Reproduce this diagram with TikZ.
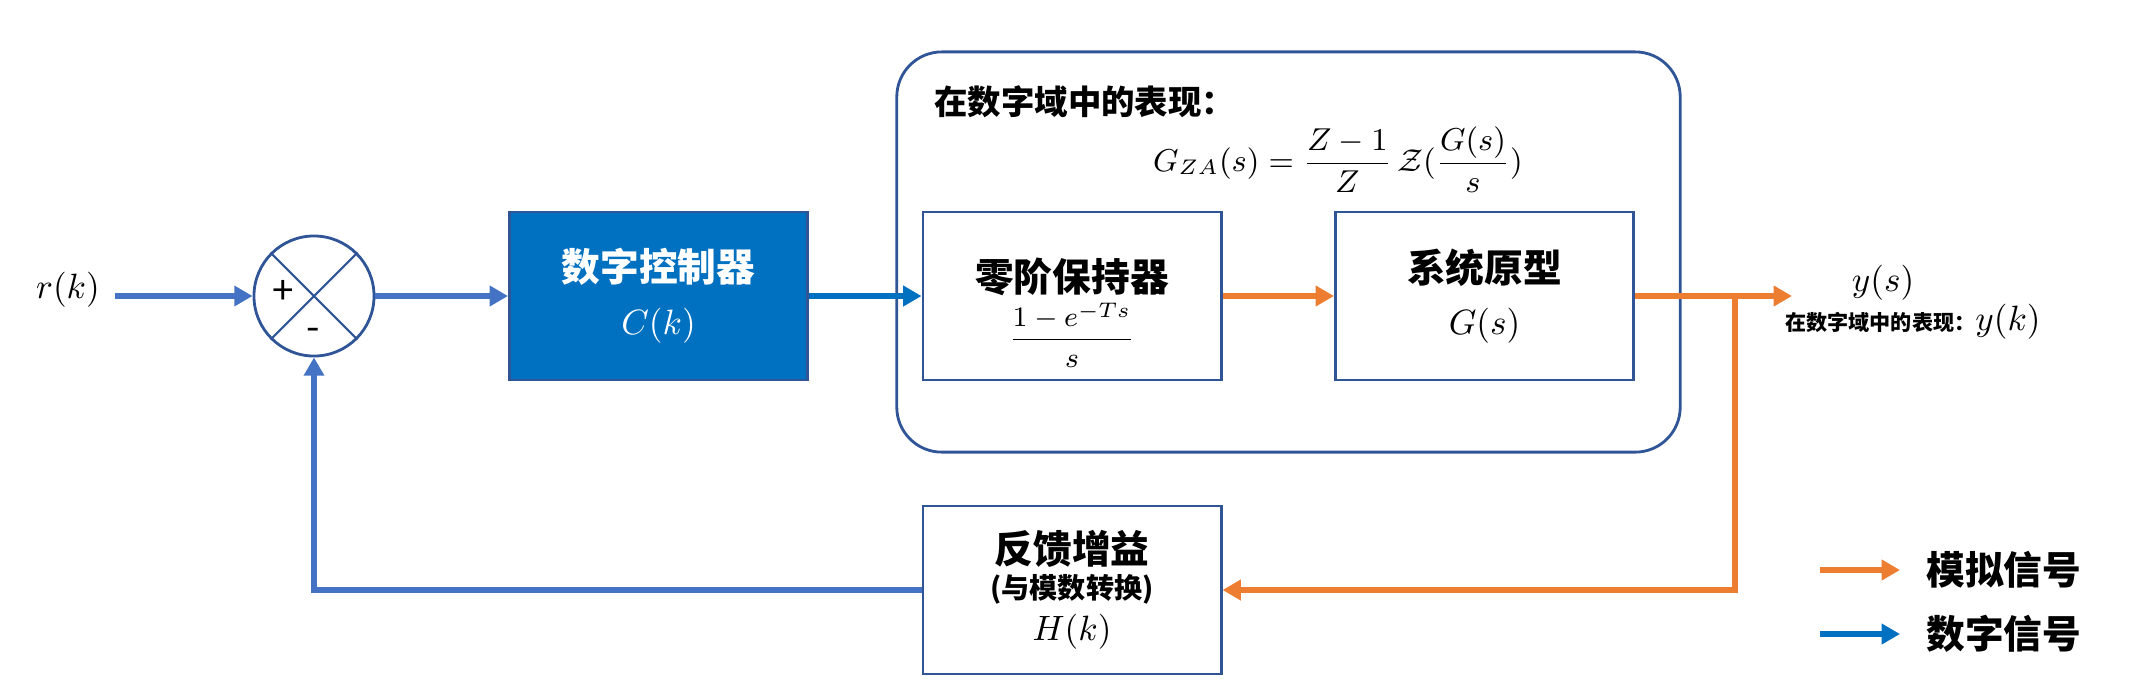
\documentclass[tikz,border=0pt]{standalone}
\usepackage{amsmath}
\usepackage{fontspec}
\setmainfont{Noto Sans CJK SC}
\usepackage{xcolor}
\usetikzlibrary{arrows.meta,positioning,calc}
\definecolor{sigblue}{HTML}{4472C4}
\definecolor{digblue}{HTML}{0070C0}
\definecolor{anaorange}{HTML}{ED7D31}
\definecolor{boxline}{HTML}{2F5597}

\begin{document}
\begin{tikzpicture}[x=0.01cm,y=-0.01cm,every node/.style={align=center},
  font=\fontsize{10}{12}\selectfont,
  blk/.style={draw=boxline,line width=0.8pt,minimum width=2.98cm,minimum height=1.68cm,inner sep=0pt},
  ttl/.style={font=\fontsize{11}{13}\selectfont\bfseries},
  sig/.style={draw=sigblue,line width=1.7pt,-{Triangle[length=5.2pt,width=5.6pt]}},
  dig/.style={draw=digblue,line width=1.7pt,-{Triangle[length=5.2pt,width=5.6pt]}},
  ana/.style={draw=anaorange,line width=1.7pt,-{Triangle[length=5.2pt,width=5.6pt]}}]
  \useasboundingbox (0,0) rectangle (2130,696);
  % domain frame
  \node[draw=boxline,line width=0.8pt,rounded corners=0.45cm,minimum width=7.83cm,minimum height=4cm] (dom) at (1288.5,252) {};
  \node[anchor=west,font=\fontsize{9.5}{11}\selectfont\bfseries] (domtitle) at (922,102) {在数字域中的表现：};
  \node[font=\fontsize{9}{11}\selectfont] (gza) at (1338,160) {$G_{ZA}(s)=\dfrac{Z-1}{Z}\,\mathcal{Z}(\dfrac{G(s)}{s})$};
  % summing junction
  \node[draw=boxline,line width=0.8pt,circle,minimum size=1.2cm,inner sep=0pt] (sum) at (314,296) {};
  \draw[boxline,line width=0.6pt] (sum.north west) -- (sum.south east) (sum.north east) -- (sum.south west);
  \node[font=\fontsize{11}{13}\selectfont] (plus) at (283,292) {+};
  \node[font=\fontsize{11}{13}\selectfont] (minus) at (313,334) {-};
  % blocks
  \node[blk,fill=digblue,text=white] (ctrl) at (658.5,296) {{\fontsize{11}{13}\selectfont\bfseries 数字控制器}\\[3pt]$C(k)$};
  \node[blk] (zoh) at (1072,296) {\rule{0pt}{19pt}{\fontsize{11}{13}\selectfont\bfseries 零阶保持器}\\[1pt]{\fontsize{8.5}{10}\selectfont$\dfrac{1-e^{-Ts}}{s}$}};
  \node[blk] (sys) at (1484.5,296) {{\fontsize{11}{13}\selectfont\bfseries 系统原型}\\[3pt]$G(s)$};
  \node[blk] (fb) at (1072,590) {{\fontsize{11}{13}\selectfont\bfseries 反馈增益}\\[-2pt]{\fontsize{8}{10}\selectfont\bfseries (与模数转换)}\\$H(k)$};
  % signals
  \node (rk) at (68,290) {$r(k)$};
  \coordinate (in) at (115,296);
  \coordinate (out) at (1792,296);
  \coordinate (br) at (1735,296);
  \draw[sig] (in) -- (sum.west);
  \draw[sig] (sum.east) -- (ctrl.west);
  \draw[dig] (ctrl.east) -- (zoh.west);
  \draw[ana] (zoh.east) -- (sys.west);
  \draw[ana] (sys.east) -- (out);
  \draw[ana] (br) |- (fb.east);
  \draw[sig] (fb.west) -| (sum.south);
  \node (ys) at (1883,283) {$y(s)$};
  \node (yk) at (1913,322) {{\fontsize{6}{7}\selectfont\bfseries 在数字域中的表现：}$y(k)$};
  % legend
  \foreach \c/\t/\y in {anaorange/模拟信号/570,digblue/数字信号/634} {
    \coordinate (l1) at (1820,\y);
    \coordinate (l2) at (1900,\y);
    \draw[draw=\c,line width=1.7pt,-{Triangle[length=5.2pt,width=5.6pt]}] (l1) -- (l2);
    \node[anchor=west,ttl] (lt) at (1914,\y) {\t};
  }
\end{tikzpicture}
\end{document}
